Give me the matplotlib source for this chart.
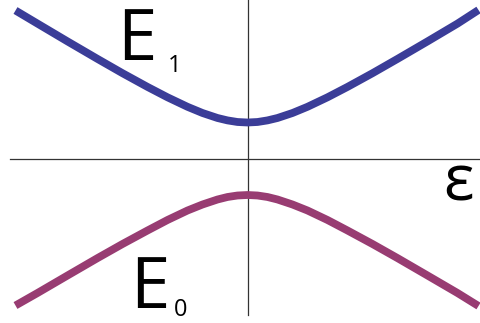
import matplotlib
matplotlib.use("Agg")
import matplotlib.pyplot as plt

# detuning (epsilon) sample positions and read energies (arbitrary units)
eps = [-232, -210, -180, -150, -125, -100, -80, -60, -45, -30, -20, -10, 0,
       10, 20, 30, 45, 60, 80, 100, 125, 150, 180, 210, 231]
E1 = [148.0, 134.9, 117.1, 99.6, 85.3, 71.6, 61.2, 51.7, 45.5, 40.5, 38.1, 36.5, 36.0,
      36.5, 38.1, 40.5, 45.5, 51.7, 61.2, 71.6, 85.3, 99.6, 117.1, 134.9, 148.5]
E0 = [-147.0, -134.5, -117.0, -99.6, -85.5, -72.0, -61.5, -52.0, -46.0, -41.0, -38.5, -37.0, -36.5,
      -37.0, -38.5, -41.0, -46.0, -52.0, -61.5, -72.0, -85.5, -99.6, -117.0, -134.5, -147.5]

fig = plt.figure(figsize=(4.8, 3.23), dpi=100)
ax = fig.add_axes([0, 0, 1, 1])
ax.set_xlim(-247.5, 232.5)
ax.set_ylim(-164.5, 158.5)
ax.axis('off')

# axes lines
ax.plot([-238, 232.5], [0, 0], color='#333333', lw=0.9, zorder=1)
ax.plot([0, 0], [158.5, -156], color='#333333', lw=0.9, zorder=1)

ax.plot(eps, E1, color='#3b3d98', lw=5.6, solid_capstyle='butt', zorder=2)
ax.plot(eps, E0, color='#983c72', lw=5.6, solid_capstyle='butt', zorder=2)

fam = ['Open Sans', 'DejaVu Sans']
ax.text(-130, 98, 'E', fontsize=51, family=fam, weight='medium', ha='left', va='baseline')
ax.text(-80, 86, '1', fontsize=17, family=fam, ha='left', va='baseline')
ax.text(-117, -149, 'E', fontsize=51, family=fam, weight='medium', ha='left', va='baseline')
ax.text(-74, -158, '0', fontsize=17, family=fam, ha='left', va='baseline')
ax.text(196, -42, 'ε', fontsize=46, family=fam, weight='medium', ha='left', va='baseline')

fig.savefig('out.png', dpi=100)
